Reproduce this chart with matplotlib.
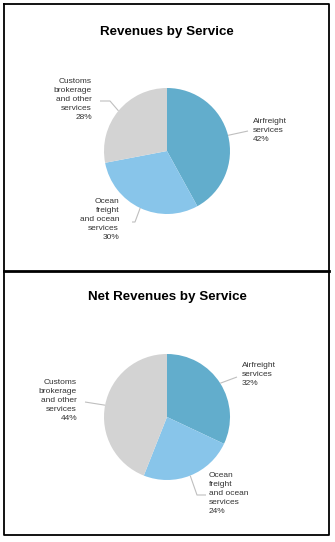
import matplotlib
matplotlib.use("Agg")
import matplotlib.pyplot as plt
import numpy as np

# data
services = ["Airfreight\nservices", "Ocean\nfreight\nand ocean\nservices", "Customs\nbrokerage\nand other\nservices"]
revenues = [42, 30, 28]
net_revenues = [32, 24, 44]
colors = ["#62ADCC", "#88C5EA", "#D3D3D3"]

W, H = 335, 542
plt.rcParams['font.family'] = ['Liberation Sans', 'DejaVu Sans']

fig = plt.figure(figsize=(W / 100, H / 100), dpi=100)
ax = fig.add_axes([0, 0, 1, 1])


def up(y):
    # pixel rows from top -> axes y (up)
    return H - y


def draw_pie(title, vals, cy, title_y, label_pos, elbows):
    cx, r = 167, 63
    wedges, _ = ax.pie(vals, colors=colors, startangle=90, counterclock=False,
                       center=(cx, up(cy)), radius=r,
                       wedgeprops=dict(linewidth=0))
    ax.text(cx, up(title_y), title, ha="center", va="center",
            fontsize=9.6, fontweight="bold", color="black")
    for i, w in enumerate(wedges):
        mid = np.deg2rad((w.theta1 + w.theta2) / 2)
        ex, ey = cx + r * np.cos(mid), up(cy) + r * np.sin(mid)
        pts = [(ex, ey)] + [(x, up(y)) for x, y in elbows[i]]
        xs, ys = zip(*pts)
        ax.plot(xs, ys, color="#BFBFBF", lw=0.8, solid_capstyle="butt")
        lx, ly, ha = label_pos[i]
        ax.text(lx, up(ly), "%s\n%d%%" % (services[i], vals[i]), ha=ha, va="top",
                fontsize=6.0, color="#333333", linespacing=1.38, multialignment=ha)


draw_pie("Revenues by Service", revenues, 151, 32,
         [(253, 118, "left"), (119, 198, "right"), (92, 78, "right")],
         [[(248, 131)], [(135, 222), (132, 222)], [(110, 101), (100, 101)]])
draw_pie("Net Revenues by Service", net_revenues, 417, 297,
         [(242, 362, "left"), (209, 472, "left"), (77, 379, "right")],
         [[(237, 377)], [(197, 495), (206, 495)], [(85, 402)]])

# frames
ax.plot([4, 329, 329, 4, 4], [up(4), up(4), up(535), up(535), up(4)], color="black", lw=1.3)
ax.plot([4, 329], [up(271), up(271)], color="black", lw=2.0)

ax.set_xlim(0, W)
ax.set_ylim(0, H)
ax.set_aspect("auto")
ax.axis("off")

fig.savefig("out.png", dpi=100)
